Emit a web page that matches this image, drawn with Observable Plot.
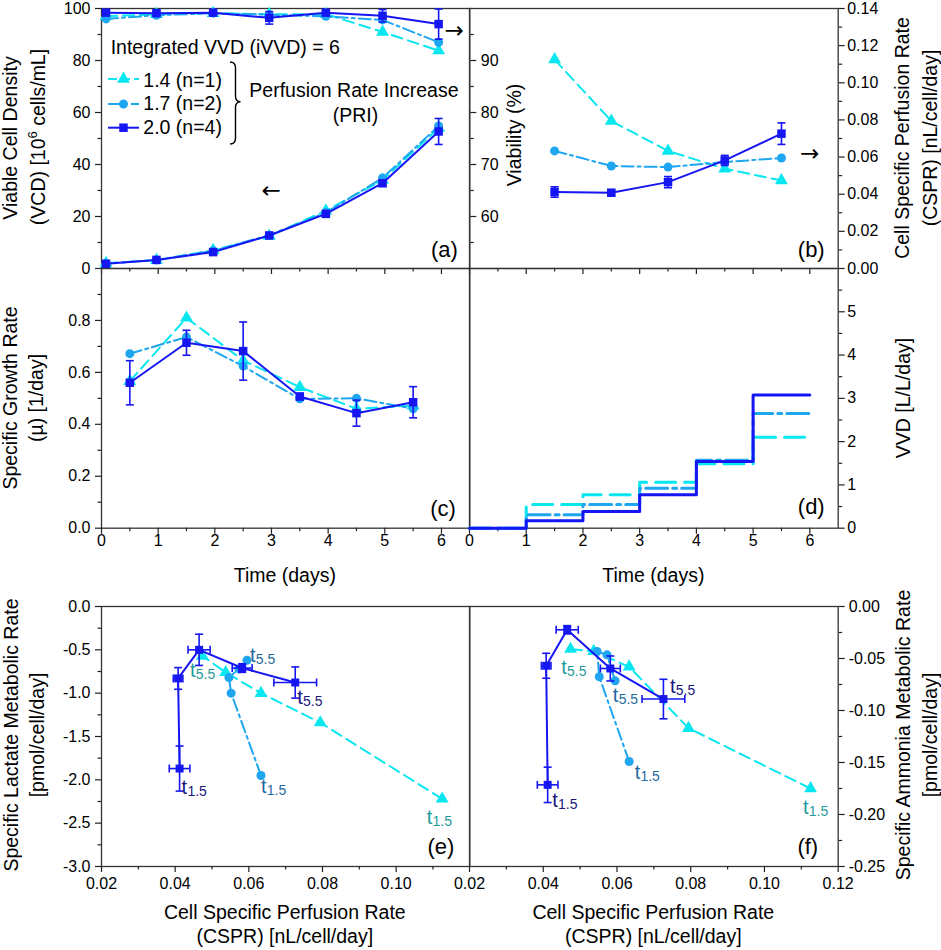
<!DOCTYPE html>
<html>
<head>
<meta charset="utf-8">
<script src="https://cdn.jsdelivr.net/npm/d3@7"></script>
<script src="https://cdn.jsdelivr.net/npm/@observablehq/plot@0.6"></script>
<style>
  body { margin: 0; background: #fff; }
  #fig { position: relative; width: 941px; height: 950px; overflow: hidden; background: #fff;
         font-family: "Liberation Sans", Arial, Helvetica, sans-serif; color: #000; }
  .tt { position: absolute; font-size: 19.5px; line-height: 1; white-space: nowrap; transform: translate(-50%, -50%); }
  .rot { transform: translate(-50%, -50%) rotate(-90deg); }
</style>
</head>
<body>
<div id="fig"></div>
<script>
// ---------------- DATA ----------------
const seriesNames = ["1.4 (n=1)", "1.7 (n=2)", "2.0 (n=4)"];

// (a) Viable cell density [1e6 cells/mL] and viability [%] vs time
const timeA    = [0.08, 0.97, 1.97, 2.96, 3.96, 4.96, 5.95];
const vcd14    = [2.0, 3.2, 7.0, 12.5, 22.2, 34.0, 54.0];
const vcd17    = [1.9, 3.3, 6.8, 12.8, 21.5, 34.8, 54.8];
const vcd20    = [1.8, 3.3, 6.3, 12.7, 21.0, 32.8, 52.7];
const vcd20Err = [0.3, 0.4, 0.6, 0.8, 1.0, 1.2, 5.0];
const via14    = [98.5, 98.9, 99.1, 98.9, 98.9, 95.5, 91.9];
const via17    = [98.0, 98.7, 99.1, 98.8, 98.5, 97.8, 93.5];
const via20    = [99.2, 99.1, 99.2, 98.2, 99.2, 98.6, 97.0];
const via20Err = [0.4, 0.4, 0.3, 1.2, 0.4, 1.2, 2.9];

// (b) Cell specific perfusion rate [nL/cell/day] vs time
const timeB     = [1.5, 2.5, 3.5, 4.5, 5.5];
const cspr14    = [0.1125, 0.0794, 0.0633, 0.0537, 0.0474];
const cspr17    = [0.0633, 0.0552, 0.0546, 0.0573, 0.0595];
const cspr20    = [0.0412, 0.0408, 0.0465, 0.0582, 0.0726];
const cspr20Err = [0.0028, 0.0013, 0.003, 0.0027, 0.0058];

// (c) Specific growth rate [1/day] vs time
const timeC   = [0.5, 1.5, 2.5, 3.5, 4.5, 5.5];
const mu14    = [0.566, 0.81, 0.646, 0.543, 0.46, 0.472];
const mu17    = [0.672, 0.736, 0.624, 0.498, 0.50, 0.46];
const mu20    = [0.56, 0.714, 0.682, 0.507, 0.443, 0.485];
const mu20Err = [0.085, 0.048, 0.112, 0.012, 0.05, 0.06];

// (d) VVD [L/L/day] step profile vs time
const timeD = [0, 1, 2, 3, 4, 5, 6];
const vvd14 = [0, 0.55, 0.77, 1.06, 1.49, 2.10, 2.10];
const vvd17 = [0, 0.31, 0.55, 0.92, 1.57, 2.65, 2.65];
const vvd20 = [0, 0.17, 0.385, 0.77, 1.54, 3.08, 3.08];

// (e) Specific lactate metabolic rate [pmol/cell/day] vs CSPR
const lac14    = [-2.22, -1.34, -1.0, -0.76, -0.57];
const lac17    = [-1.95, -1.0, -0.82, -0.72, -0.62];
const lac20    = [-1.87, -0.83, -0.50, -0.71, -0.877];
const lac20Err = [0.26, 0.125, 0.18, 0.05, 0.18];

// (f) Specific ammonia metabolic rate [pmol/cell/day] vs CSPR
const amm14    = [-0.175, -0.117, -0.058, -0.043, -0.041];
const amm17    = [-0.149, -0.0676, -0.0433, -0.0465, -0.0715];
const amm20    = [-0.1715, -0.057, -0.0224, -0.0596, -0.089];
const amm20Err = [0.017, 0.012, 0.004, 0.012, 0.019];

// Tick values / labels
const timeTicks  = [0, 1, 2, 3, 4, 5, 6];
const timeMinor  = [0.5, 1.5, 2.5, 3.5, 4.5, 5.5];
const vcdTicks   = [0, 20, 40, 60, 80, 100];
const vcdMinor   = [10, 30, 50, 70, 90];
const viaTicks   = [60, 70, 80, 90];
const viaMinor   = [55, 65, 75, 85, 95];
const csprTicks  = [0, 0.02, 0.04, 0.06, 0.08, 0.10, 0.12, 0.14];
const csprMinor  = [0.01, 0.03, 0.05, 0.07, 0.09, 0.11, 0.13];
const muTicks    = [0, 0.2, 0.4, 0.6, 0.8];
const muMinor    = [0.1, 0.3, 0.5, 0.7, 0.9];
const vvdTicks   = [0, 1, 2, 3, 4, 5];
const vvdMinor   = [0.5, 1.5, 2.5, 3.5, 4.5, 5.5];
const lacTicks   = [0, -0.5, -1.0, -1.5, -2.0, -2.5, -3.0];
const lacMinor   = [-0.25, -0.75, -1.25, -1.75, -2.25, -2.75];
const ammTicks   = [0, -0.05, -0.10, -0.15, -0.20, -0.25];
const ammMinor   = [-0.025, -0.075, -0.125, -0.175, -0.225];
const csprXTicksE = [0.02, 0.04, 0.06, 0.08, 0.10];
const csprXTicksF = [0.02, 0.04, 0.06, 0.08, 0.10, 0.12];
const csprXMinor  = [0.03, 0.05, 0.07, 0.09, 0.11];

// ---------------- STYLE ----------------
const FONT = '"Liberation Sans", Arial, Helvetica, sans-serif';
const C14 = "#08e6f0", C17 = "#1ea6f0", C20 = "#1616f2";
const L14 = "#1f9a9c", L17 = "#1f6a9e", L20 = "#18187c";
const FR = "#333";
const DASH = "11,6", DASHDOT = "12,4,3,4";
const DASH_D = "20,9", DASHDOT_D = "22,5,4,5";
const fig = document.getElementById("fig");

const hcap = {draw(ctx, size) { const w = Math.sqrt(size / Math.PI); ctx.moveTo(-w, 0); ctx.lineTo(w, 0); }};
const vcap = {draw(ctx, size) { const w = Math.sqrt(size / Math.PI); ctx.moveTo(0, -w); ctx.lineTo(0, w); }};

const rowsOf = (xs, ys, ey, ex) => xs.map((x, i) => ({x, y: ys[i], ey: ey ? ey[i] : 0, ex: ex ? ex[i] : 0}));

function seriesMarks(data, color, symbol, r, sw, dash, curve) {
  const o = {x: "x", y: "y", stroke: color, strokeWidth: sw};
  if (dash) o.strokeDasharray = dash;
  if (curve) o.curve = curve;
  const out = [Plot.line(data, o)];
  if (symbol) out.push(Plot.dot(data, {x: "x", y: "y", symbol, r, fill: color, stroke: "none"}));
  return out;
}
function errY(data, color) {
  const d = data.filter(r => r.ey > 0);
  return [
    Plot.ruleX(d, {x: "x", y1: r => r.y - r.ey, y2: r => r.y + r.ey, stroke: color, strokeWidth: 1.6}),
    Plot.dot(d, {x: "x", y: r => r.y + r.ey, symbol: hcap, r: 4, stroke: color, strokeWidth: 1.6, fill: "none"}),
    Plot.dot(d, {x: "x", y: r => r.y - r.ey, symbol: hcap, r: 4, stroke: color, strokeWidth: 1.6, fill: "none"})
  ];
}
function errX(data, color) {
  const d = data.filter(r => r.ex > 0);
  return [
    Plot.ruleY(d, {y: "y", x1: r => r.x - r.ex, x2: r => r.x + r.ex, stroke: color, strokeWidth: 1.6}),
    Plot.dot(d, {x: r => r.x - r.ex, y: "y", symbol: vcap, r: 4, stroke: color, strokeWidth: 1.6, fill: "none"}),
    Plot.dot(d, {x: r => r.x + r.ex, y: "y", symbol: vcap, r: 4, stroke: color, strokeWidth: 1.6, fill: "none"})
  ];
}
function ax(dim, anchor, major, minor, fmt, pad) {
  const A = dim === "x" ? Plot.axisX : Plot.axisY;
  return [
    A({anchor, ticks: major, tickSize: 6, tickPadding: pad ?? 4, tickFormat: fmt || (() => ""), stroke: "#222", strokeWidth: 1.2, label: null, fontSize: 16}),
    A({anchor, ticks: minor, tickSize: 3.5, tickFormat: () => "", stroke: "#222", strokeWidth: 1.2, label: null})
  ];
}
function tLabel(pt, sub, color, dx, dy) {
  return [
    Plot.text([pt], {x: "x", y: "y", text: () => "t", dx, dy, fill: color, fontSize: 20, textAnchor: "start", lineAnchor: "bottom"}),
    Plot.text([pt], {x: "x", y: "y", text: () => sub, dx: dx + 5.8, dy: dy + 2, fill: color, fontSize: 14, textAnchor: "start", lineAnchor: "bottom"})
  ];
}
function tag(s, dx, dy) {
  return Plot.text([s], {frameAnchor: "bottom-right", textAnchor: "end", lineAnchor: "middle", dx, dy, fontSize: 22});
}
function arrow(s, anchor, dx, dy) {
  return Plot.text([s], {frameAnchor: anchor, textAnchor: anchor.endsWith("right") ? "end" : "start", lineAnchor: "middle", dx, dy, fontSize: 23, fontFamily: "DejaVu Sans"});
}

const M = {l: 70, r: 70, t: 12, b: 45};
function panel(frame, opts) {
  const [L, T, W, H] = frame;
  const svg = Plot.plot({
    width: W + M.l + M.r, height: H + M.t + M.b,
    marginLeft: M.l, marginRight: M.r, marginTop: M.t, marginBottom: M.b,
    style: {fontFamily: FONT, fontSize: "16px", color: "#000", background: "transparent", overflow: "visible"},
    ...opts
  });
  svg.style.position = "absolute";
  svg.style.left = (L - M.l) + "px";
  svg.style.top = (T - M.t) + "px";
  svg.style.maxWidth = "none";
  fig.appendChild(svg);
}

// panel frames [left, top, width, height]
const FA = [100.7, 8, 368.3, 260], FB = [469, 8, 368.7, 260];
const FC = [100.7, 268, 368.3, 259.7], FD = [469, 268, 368.7, 259.7];
const FE = [100.7, 605.7, 368.3, 260], FF = [469, 605.7, 368.7, 260];
const tx = d => String(d);
const f1 = d => (Math.abs(d) < 1e-9 ? 0 : d).toFixed(1);
const f2 = d => (Math.abs(d) < 1e-9 ? 0 : d).toFixed(2);
const timeX = () => ({domain: [0, 6.5], label: null, axis: null});
const csprX = () => ({domain: [0.02, 0.12], label: null, axis: null});

// ---------- (a) VCD ----------
const a14 = rowsOf(timeA, vcd14), a17 = rowsOf(timeA, vcd17), a20 = rowsOf(timeA, vcd20, vcd20Err);
panel(FA, {
  x: timeX(), y: {domain: [0, 100], label: null, axis: null},
  marks: [
    Plot.frame({stroke: FR, strokeWidth: 1.3}),
    ...ax("y", "left", vcdTicks, vcdMinor, tx, 5),
    ...ax("x", "bottom", timeTicks, timeMinor, null),
    ...seriesMarks(a14, C14, "triangle", 4.8, 2, DASH),
    ...seriesMarks(a17, C17, "circle", 4.5, 2, DASHDOT),
    ...errY(a20, C20),
    ...seriesMarks(a20, C20, "square", 4.8, 2),
    tag("(a)", -12, -19),
    arrow("←", "top-left", 160, 182),
    arrow("→", "top-right", -6, 22)
  ]
});
// ---------- (a) viability (right axis) ----------
const v14 = rowsOf(timeA, via14), v17 = rowsOf(timeA, via17), v20 = rowsOf(timeA, via20, via20Err);
panel(FA, {
  x: timeX(), y: {domain: [50, 100], label: null, axis: null},
  marks: [
    Plot.axisX({anchor: "bottom", ticks: [], tickSize: 0, tickFormat: () => "", label: null}),
    ...ax("y", "right", viaTicks, viaMinor, tx, 5),
    ...seriesMarks(v14, C14, "triangle", 4.8, 2, DASH),
    ...seriesMarks(v17, C17, "circle", 4.5, 2, DASHDOT),
    ...errY(v20, C20),
    ...seriesMarks(v20, C20, "square", 4.8, 2)
  ]
});
// ---------- (b) CSPR ----------
const b14 = rowsOf(timeB, cspr14), b17 = rowsOf(timeB, cspr17), b20 = rowsOf(timeB, cspr20, cspr20Err);
panel(FB, {
  x: timeX(), y: {domain: [0, 0.14], label: null, axis: null},
  marks: [
    Plot.frame({stroke: FR, strokeWidth: 1.3}),
    ...ax("y", "right", csprTicks, csprMinor, f2, 3),
    ...ax("x", "bottom", timeTicks, timeMinor, null),
    ...seriesMarks(b14, C14, "triangle", 4.8, 2, DASH),
    ...seriesMarks(b17, C17, "circle", 4.5, 2, DASHDOT),
    ...errY(b20, C20),
    ...seriesMarks(b20, C20, "square", 4.8, 2),
    tag("(b)", -13.5, -19),
    arrow("→", "top-right", -19, 145)
  ]
});
// ---------- (c) growth rate ----------
const c14 = rowsOf(timeC, mu14), c17 = rowsOf(timeC, mu17), c20 = rowsOf(timeC, mu20, mu20Err);
panel(FC, {
  x: timeX(), y: {domain: [0, 1.0], label: null, axis: null},
  marks: [
    Plot.frame({stroke: FR, strokeWidth: 1.3}),
    ...ax("y", "left", muTicks, muMinor, f1, 5),
    ...ax("x", "bottom", timeTicks, timeMinor, tx, 0),
    ...seriesMarks(c14, C14, "triangle", 4.8, 2, DASH),
    ...seriesMarks(c17, C17, "circle", 4.5, 2, DASHDOT),
    ...errY(c20, C20),
    ...seriesMarks(c20, C20, "square", 4.8, 2),
    tag("(c)", -14, -19.5)
  ]
});
// ---------- (d) VVD ----------
const d14 = rowsOf(timeD, vvd14), d17 = rowsOf(timeD, vvd17), d20 = rowsOf(timeD, vvd20);
panel(FD, {
  x: timeX(), y: {domain: [0, 6], label: null, axis: null},
  marks: [
    Plot.frame({stroke: FR, strokeWidth: 1.3}),
    ...ax("y", "right", vvdTicks, vvdMinor, tx, 3),
    ...ax("x", "bottom", timeTicks, timeMinor, tx, 0),
    ...seriesMarks(d14, C14, null, 0, 3, DASH_D, "step-after"),
    ...seriesMarks(d17, C17, null, 0, 3, DASHDOT_D, "step-after"),
    ...seriesMarks(d20, C20, null, 0, 3, null, "step-after"),
    tag("(d)", -13.5, -21)
  ]
});
// ---------- (e) lactate vs CSPR ----------
const e14 = rowsOf(cspr14, lac14), e17 = rowsOf(cspr17, lac17), e20 = rowsOf(cspr20, lac20, lac20Err, cspr20Err);
const s0 = timeB[0].toFixed(1), s4 = timeB[4].toFixed(1);
panel(FE, {
  x: csprX(), y: {domain: [-3, 0], label: null, axis: null},
  marks: [
    Plot.frame({stroke: FR, strokeWidth: 1.3}),
    ...ax("y", "left", lacTicks, lacMinor, f1, 5),
    ...ax("x", "bottom", csprXTicksE, csprXMinor, f2, 5.5),
    ...seriesMarks(e14, C14, "triangle", 4.8, 2, DASH),
    ...seriesMarks(e17, C17, "circle", 4.5, 2, DASHDOT),
    ...errY(e20, C20), ...errX(e20, C20),
    ...seriesMarks(e20, C20, "square", 4.5, 2),
    ...tLabel(e20[0], s0, L20, 2, 25), ...tLabel(e20[4], s4, L20, 2, 21),
    ...tLabel(e17[0], s0, L17, 0, 18), ...tLabel(e17[4], s4, L17, 3, 1.5),
    ...tLabel(e14[0], s0, L14, -15.5, 25), ...tLabel(e14[4], s4, L14, -12.5, 21.5),
    tag("(e)", -15.5, -19.7)
  ]
});
// ---------- (f) ammonia vs CSPR ----------
const g14 = rowsOf(cspr14, amm14), g17 = rowsOf(cspr17, amm17), g20 = rowsOf(cspr20, amm20, amm20Err, cspr20Err);
panel(FF, {
  x: csprX(), y: {domain: [-0.25, 0], label: null, axis: null},
  marks: [
    Plot.frame({stroke: FR, strokeWidth: 1.3}),
    ...ax("y", "right", ammTicks, ammMinor, f2, 4.5),
    ...ax("x", "bottom", csprXTicksF, csprXMinor, f2, 5.5),
    ...seriesMarks(g14, C14, "triangle", 4.8, 2, DASH),
    ...seriesMarks(g17, C17, "circle", 4.5, 2, DASHDOT),
    ...errY(g20, C20), ...errX(g20, C20),
    ...seriesMarks(g20, C20, "square", 4.5, 2),
    ...tLabel(g20[0], s0, L20, 4.5, 22.5), ...tLabel(g20[4], s4, L20, 6.5, -6.5),
    ...tLabel(g17[0], s0, L17, 5.5, 17.5), ...tLabel(g17[4], s4, L17, -2.3, 21.5),
    ...tLabel(g14[0], s0, L14, -7.5, 25.5), ...tLabel(g14[4], s4, L14, -9.3, 25),
    tag("(f)", -20, -19.7)
  ]
});

// ---------------- LEGEND (inside panel a) ----------------
const lg = d3.select(fig).append("svg")
  .attr("width", 470).attr("height", 160)
  .style("position", "absolute").style("left", "0px").style("top", "0px").style("overflow", "visible")
  .attr("font-family", FONT).attr("font-size", 19.5);
lg.append("text").attr("x", 110.7).attr("y", 54).text("Integrated VVD (iVVD) = 6");
const legRows = [
  {name: seriesNames[0], color: C14, dash: "9,4", sym: d3.symbolTriangle, r: 4.8, ly: 79, by: 86.7},
  {name: seriesNames[1], color: C17, dash: "12,4,3,4", sym: d3.symbolCircle, r: 4.5, ly: 104, by: 110.2},
  {name: seriesNames[2], color: C20, dash: null, sym: d3.symbolSquare, r: 4.8, ly: 127.7, by: 133.5}
];
for (const row of legRows) {
  const ln = lg.append("line").attr("x1", 108).attr("x2", 139).attr("y1", row.ly).attr("y2", row.ly)
    .attr("stroke", row.color).attr("stroke-width", 2);
  if (row.dash) ln.attr("stroke-dasharray", row.dash);
  lg.append("path").attr("d", d3.symbol().type(row.sym).size(Math.PI * row.r * row.r)())
    .attr("transform", `translate(123.5,${row.ly})`).attr("fill", row.color);
  lg.append("text").attr("x", 143.3).attr("y", row.by).text(row.name);
}
lg.append("path")
  .attr("d", "M230,62 Q235.5,62 235.5,68 L235.5,96 Q235.5,101.7 240.5,101.7 Q235.5,101.7 235.5,107.5 L235.5,138 Q235.5,144 230,144")
  .attr("fill", "none").attr("stroke", "#000").attr("stroke-width", 1.4);
lg.append("text").attr("x", 249.3).attr("y", 97.3).text("Perfusion Rate Increase");
lg.append("text").attr("x", 355.5).attr("y", 121.7).attr("text-anchor", "middle").text("(PRI)");

// ---------------- AXIS TITLES ----------------
function title(html, cx, cy, rot) {
  const el = document.createElement("div");
  el.className = "tt" + (rot ? " rot" : "");
  el.style.left = cx + "px"; el.style.top = cy + "px";
  el.innerHTML = html;
  fig.appendChild(el);
}
const sup = s => `<span style="font-size:13px;position:relative;top:-8px">${s}</span>`;
title("Viable Cell Density", 11, 138, true);
title(`(VCD) [10${sup("6")} cells/mL]`, 39, 137, true);
title("Specific Growth Rate", 11, 398, true);
title("(µ) [1/day]", 37, 398, true);
title("Specific Lactate Metabolic Rate", 12, 735, true);
title("[pmol/cell/day]", 38, 735, true);
title("Viability (%)", 515, 135, true);
title("Cell Specific Perfusion Rate", 902.5, 137.5, true);
title("(CSPR) [nL/cell/day]", 931, 138, true);
title("VVD [L/L/day]", 904, 398, true);
title("Specific Ammonia Metabolic Rate", 904, 735, true);
title("[pmol/cell/day]", 931, 735, true);
title("Time (days)", 284.8, 575.7, false);
title("Time (days)", 653.3, 575.7, false);
title("Cell Specific Perfusion Rate", 284.8, 913, false);
title("(CSPR) [nL/cell/day]", 284.8, 937, false);
title("Cell Specific Perfusion Rate", 653.3, 913, false);
title("(CSPR) [nL/cell/day]", 653.3, 937, false);
</script>
</body>
</html>
